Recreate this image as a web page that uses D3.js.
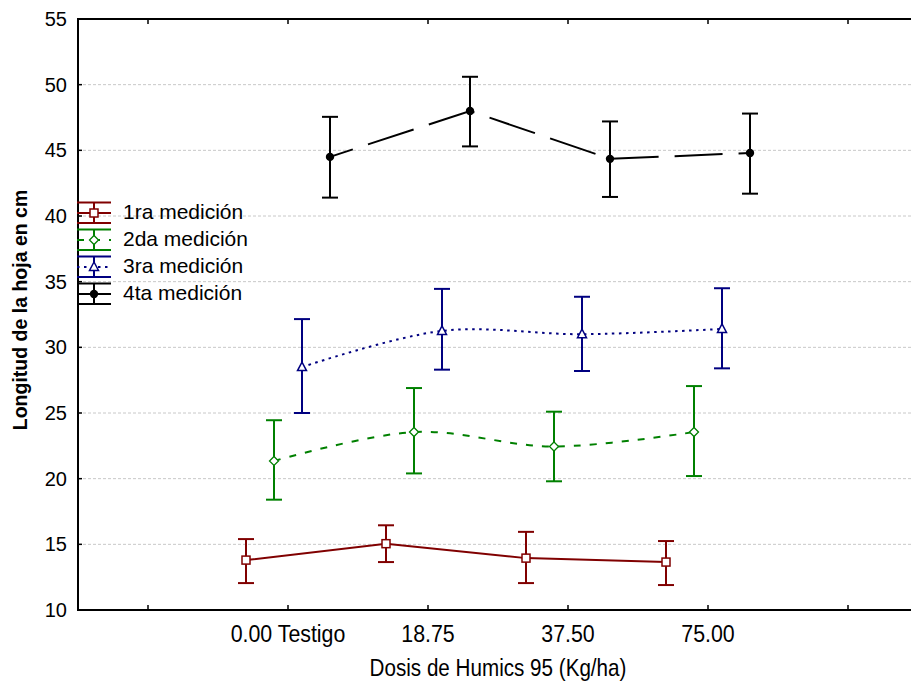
<!DOCTYPE html>
<html>
<head>
<meta charset="utf-8">
<script src="https://cdn.jsdelivr.net/npm/d3@7"></script>
<style>
  body { margin: 0; background: #fff; }
  svg { display: block; }
</style>
</head>
<body>
<div id="chart"></div>
<script>
// data
const categories = ["0.00 Testigo", "18.75", "37.50", "75.00"];
const seriesNames = ["1ra medición", "2da medición", "3ra medición", "4ta medición"];

const med1 = [13.8, 15.05, 13.95, 13.65];
const med1Lo = [12.05, 13.65, 12.05, 11.9];
const med1Hi = [15.4, 16.45, 15.95, 15.25];

const med2 = [21.35, 23.55, 22.45, 23.55];
const med2Lo = [18.4, 20.4, 19.8, 20.2];
const med2Hi = [24.45, 26.9, 25.1, 27.05];

const med3 = [28.5, 31.25, 31.0, 31.4];
const med3Lo = [25.0, 28.3, 28.2, 28.4];
const med3Hi = [32.15, 34.45, 33.85, 34.5];

const med4 = [44.5, 48.0, 44.35, 44.8];
const med4Lo = [41.4, 45.3, 41.45, 41.7];
const med4Hi = [47.55, 50.6, 47.2, 47.8];

const yTicks = [10, 15, 20, 25, 30, 35, 40, 45, 50, 55];

const width = 911, height = 685;
const plotLeft = 78, plotRight = 918, plotTop = 19, plotBottom = 610;

const svg = d3.select("#chart").append("svg")
  .attr("width", width)
  .attr("height", height);

const x = d3.scaleLinear().domain([-1.5, 4.5]).range([plotLeft, plotRight]);
const y = d3.scaleLinear().domain([10, 55]).range([plotBottom, plotTop]);

const series = [
  { name: seriesNames[0], v: med1, lo: med1Lo, hi: med1Hi, color: "#800000", dash: null, dashOff: 0, marker: "square", off: -0.3, curve: d3.curveLinear },
  { name: seriesNames[1], v: med2, lo: med2Lo, hi: med2Hi, color: "#008000", dash: "7,9", dashOff: 0, marker: "diamond", off: -0.1, curve: d3.curveCatmullRom },
  { name: seriesNames[2], v: med3, lo: med3Lo, hi: med3Hi, color: "#000080", dash: "2.5,4.5", dashOff: 0, marker: "triangle", off: 0.1, curve: d3.curveCatmullRom },
  { name: seriesNames[3], v: med4, lo: med4Lo, hi: med4Hi, color: "#000000", dash: "48,16", dashOff: 24, marker: "circle", off: 0.3, curve: d3.curveLinear }
];

// grid
svg.append("g").selectAll("line")
  .data(yTicks.filter(d => d > 10 && d < 55))
  .join("line")
  .attr("x1", plotLeft).attr("x2", width)
  .attr("y1", d => y(d)).attr("y2", d => y(d))
  .attr("stroke", "#c8c8c8")
  .attr("stroke-width", 1)
  .attr("stroke-dasharray", "3,2");

// frame
svg.append("line").attr("x1", plotLeft).attr("x2", width).attr("y1", plotTop).attr("y2", plotTop)
  .attr("stroke", "#000").attr("stroke-width", 2);
svg.append("line").attr("x1", plotLeft).attr("x2", width).attr("y1", plotBottom).attr("y2", plotBottom)
  .attr("stroke", "#000").attr("stroke-width", 2);
svg.append("line").attr("x1", plotLeft).attr("x2", plotLeft).attr("y1", plotTop - 1).attr("y2", plotBottom + 1)
  .attr("stroke", "#000").attr("stroke-width", 2);

// x ticks (top and bottom, inward)
const xTickPos = d3.range(-1, 5);
svg.append("g").selectAll("line")
  .data(xTickPos).join("line")
  .attr("x1", d => x(d)).attr("x2", d => x(d))
  .attr("y1", plotBottom).attr("y2", plotBottom - 5)
  .attr("stroke", "#000").attr("stroke-width", 1.5);
svg.append("g").selectAll("line")
  .data(xTickPos).join("line")
  .attr("x1", d => x(d)).attr("x2", d => x(d))
  .attr("y1", plotTop).attr("y2", plotTop + 5)
  .attr("stroke", "#000").attr("stroke-width", 1.5);

// y ticks
svg.append("g").selectAll("line")
  .data(yTicks).join("line")
  .attr("x1", plotLeft).attr("x2", plotLeft + 4)
  .attr("y1", d => y(d)).attr("y2", d => y(d))
  .attr("stroke", "#000").attr("stroke-width", 1.5);

svg.append("g").selectAll("text")
  .data(yTicks).join("text")
  .attr("x", 67)
  .attr("y", d => y(d) + 7)
  .attr("text-anchor", "end")
  .style("font-family", "'Liberation Sans', Arial, sans-serif")
  .style("font-size", "20px")
  .text(d => d);

// x tick labels (narrow look: squeeze horizontally)
svg.append("g").selectAll("text")
  .data(categories).join("text")
  .attr("transform", (d, i) => `translate(${x(i)}, 642) scale(0.89, 1)`)
  .attr("text-anchor", "middle")
  .style("font-family", "'Liberation Sans', Arial, sans-serif")
  .style("font-size", "24px")
  .text(d => d);

svg.append("text")
  .attr("transform", `translate(${(plotLeft + plotRight) / 2}, 676) scale(0.86, 1)`)
  .attr("text-anchor", "middle")
  .style("font-family", "'Liberation Sans', Arial, sans-serif")
  .style("font-size", "24px")
  .text("Dosis de Humics 95 (Kg/ha)");

svg.append("text")
  .attr("transform", `translate(27, ${(190 + 430) / 2}) rotate(-90)`)
  .attr("text-anchor", "middle")
  .style("font-family", "'Liberation Sans', Arial, sans-serif")
  .style("font-size", "19.5px")
  .style("font-weight", "bold")
  .text("Longitud de la hoja en cm");

function drawMarker(g, type, cx, cy, color) {
  if (type === "square") {
    g.append("rect").attr("x", cx - 4).attr("y", cy - 4).attr("width", 8).attr("height", 8)
      .attr("fill", "#fff").attr("stroke", color).attr("stroke-width", 1.5);
  } else if (type === "diamond") {
    g.append("path").attr("d", `M${cx},${cy - 4.5}L${cx + 4.5},${cy}L${cx},${cy + 4.5}L${cx - 4.5},${cy}Z`)
      .attr("fill", "#fff").attr("stroke", color).attr("stroke-width", 1.3);
  } else if (type === "triangle") {
    g.append("path").attr("d", `M${cx},${cy - 5}L${cx + 4.5},${cy + 3.5}L${cx - 4.5},${cy + 3.5}Z`)
      .attr("fill", "#fff").attr("stroke", color).attr("stroke-width", 1.5);
  } else {
    g.append("circle").attr("cx", cx).attr("cy", cy).attr("r", 4.2).attr("fill", color);
  }
}

// series
series.forEach(s => {
  const g = svg.append("g");
  const line = d3.line()
    .x((d, i) => x(i + s.off))
    .y(d => y(d))
    .curve(s.curve);
  g.append("path")
    .attr("d", line(s.v))
    .attr("fill", "none")
    .attr("stroke", s.color)
    .attr("stroke-width", 2)
    .attr("stroke-dasharray", s.dash)
    .attr("stroke-dashoffset", s.dashOff);

  s.v.forEach((v, i) => {
    const cx = x(i + s.off);
    g.append("line").attr("x1", cx).attr("x2", cx).attr("y1", y(s.lo[i])).attr("y2", y(s.hi[i]))
      .attr("stroke", s.color).attr("stroke-width", 2);
    [s.lo[i], s.hi[i]].forEach(e => {
      g.append("line").attr("x1", cx - 8).attr("x2", cx + 8).attr("y1", y(e)).attr("y2", y(e))
        .attr("stroke", s.color).attr("stroke-width", 2);
    });
    drawMarker(g, s.marker, cx, y(v), s.color);
  });
});

// legend
const legend = svg.append("g");
series.forEach((s, i) => {
  const base = 219 + i * 27;
  const cy = base - 6;
  const cx = 94;
  const g = legend.append("g");
  g.append("line").attr("x1", cx - 17).attr("x2", cx + 17).attr("y1", cy).attr("y2", cy)
    .attr("stroke", s.color).attr("stroke-width", 2).attr("stroke-dasharray", i === 3 ? null : s.dash);
  g.append("line").attr("x1", cx).attr("x2", cx).attr("y1", cy - 10.5).attr("y2", cy + 10)
    .attr("stroke", s.color).attr("stroke-width", 2);
  [cy - 10.5, cy + 10].forEach(e => {
    g.append("line").attr("x1", cx - 17).attr("x2", cx + 17).attr("y1", e).attr("y2", e)
      .attr("stroke", s.color).attr("stroke-width", 2);
  });
  drawMarker(g, s.marker, cx, cy, s.color);
  g.append("text")
    .attr("x", 123)
    .attr("y", base)
    .style("font-family", "'Liberation Sans', Arial, sans-serif")
    .style("font-size", "21px")
    .text(s.name);
});
</script>
</body>
</html>
